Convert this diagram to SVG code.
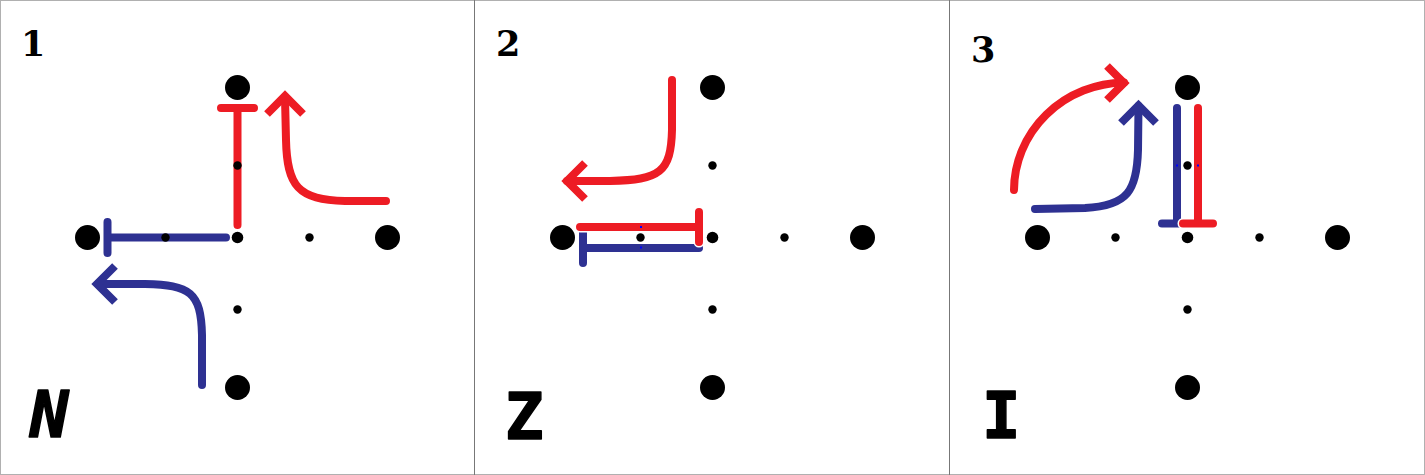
<svg xmlns="http://www.w3.org/2000/svg" width="1425" height="475" viewBox="0 0 1425 475">
<style>
.big{fill:#000}
.sm{fill:#000}
.r{stroke:#ED1C24}
.b{stroke:#2E3192}
.ln{fill:none;stroke-width:8;stroke-linecap:round;stroke-linejoin:round}
.hd{fill:none;stroke-width:8;stroke-linecap:butt;stroke-linejoin:miter}
.halo{fill:none;stroke:#fff;stroke-width:11;stroke-linecap:round}
.num{font-family:"DejaVu Serif","Liberation Serif",serif;font-weight:bold;font-size:35px;fill:#000}
.let{font-family:"DejaVu Sans Mono","Liberation Mono",monospace;font-weight:bold;font-size:64px;fill:#000;stroke:#000;stroke-width:1.5;stroke-linejoin:round}
.tiny{fill:#0000ff}
</style>
<rect x="0" y="0" width="1425" height="475" fill="#fff"/>
<g id="frame" fill="none">
<rect x="0.5" y="0.5" width="1424" height="474" stroke="#b0b0b0"/>
<line x1="474.5" y1="0" x2="474.5" y2="475" stroke="#777"/>
<line x1="949.5" y1="0" x2="949.5" y2="475" stroke="#777"/>
</g>

<g id="connectors">
<!-- Panel 1 -->
<g id="p1-red-bar">
<path class="ln r" d="M237.5,225 V108 M221,108 H254"/>
</g>
<g id="p1-red-arrow">
<path class="ln r" d="M386,201 L345,201 C298,200 287,186 286,140 L285,98"/>
<path class="hd r" d="M267,114 L285,96 L303,114"/>
</g>
<g id="p1-blue-bar">
<path class="ln b" d="M226,237.5 H107.5 M107.5,222 V253"/>
</g>
<g id="p1-blue-arrow">
<path class="ln b" d="M202,385 L202,335 C201,292 190,285 145,284 L98,284"/>
<path class="hd b" d="M115,266 L97,284 L115,302"/>
</g>

<!-- Panel 2 -->
<g id="p2-red-arrow">
<path class="ln r" d="M672,80 L672,130 C671,172 660,180 610,181 L567,181"/>
<path class="hd r" d="M585,163 L567,181 L585,199"/>
</g>
<g id="p2-blue-bar">
<path class="ln b" d="M699,248 H583 M583,233 V263"/>
</g>
<g id="p2-red-bar">
<path class="halo" d="M580,227 H699 M699,212 V242"/>
<path class="ln r" d="M580,227 H699 M699,212 V242"/>
</g>
<rect class="tiny" x="640" y="226" width="2" height="2"/>
<rect class="tiny" x="640" y="246.5" width="2" height="2"/>

<!-- Panel 3 -->
<g id="p3-red-arrow">
<path class="ln r" d="M1014,190 A112,108 0 0 1 1124,82.5"/>
<path class="hd r" d="M1107,66 L1124,83 L1107,100"/>
</g>
<g id="p3-blue-arrow">
<path class="ln b" d="M1035,209 L1085,208 C1128,206 1137,190 1138,150 L1138.5,106"/>
<path class="hd b" d="M1121,123 L1138.5,105.5 L1156,123"/>
</g>
<g id="p3-blue-bar">
<path class="ln b" d="M1177,108 V223.5 M1162,223.5 H1185"/>
</g>
<g id="p3-red-bar">
<path class="halo" d="M1198,108 V223.5 M1183,223.5 H1213"/>
<path class="ln r" d="M1198,108 V223.5 M1183,223.5 H1213"/>
</g>
<rect class="tiny" x="1176" y="164.5" width="2" height="2"/>
<rect class="tiny" x="1197" y="164.5" width="2" height="2"/>
</g>

<!-- Panel 1 -->
<g id="panel1">
<text class="num" x="21" y="56">1</text>
<text class="let" x="30" y="437" font-style="italic">N</text>
<g id="p1-dots">
<circle id="p1-n" class="big" cx="237.5" cy="87.5" r="12.5"/>
<circle id="p1-w" class="big" cx="87.5" cy="237.5" r="12.5"/>
<circle id="p1-e" class="big" cx="387.5" cy="237.5" r="12.5"/>
<circle id="p1-s" class="big" cx="237.5" cy="387.5" r="12.5"/>
<circle id="p1-c" class="sm" cx="237.5" cy="237.5" r="5.8"/>
<circle id="p1-nn" class="sm" cx="237.5" cy="165.5" r="4.2"/>
<circle id="p1-ww" class="sm" cx="165.5" cy="237.5" r="4.2"/>
<circle id="p1-ee" class="sm" cx="309.5" cy="237.5" r="4.2"/>
<circle id="p1-ss" class="sm" cx="237.5" cy="309.5" r="4.2"/>
</g>
</g>

<!-- Panel 2 -->
<g id="panel2">
<text class="num" x="496" y="56">2</text>
<text class="let" x="505" y="439">Z</text>
<g id="p2-dots">
<circle id="p2-n" class="big" cx="712.5" cy="87.5" r="12.5"/>
<circle id="p2-w" class="big" cx="562.5" cy="237.5" r="12.5"/>
<circle id="p2-e" class="big" cx="862.5" cy="237.5" r="12.5"/>
<circle id="p2-s" class="big" cx="712.5" cy="387.5" r="12.5"/>
<circle id="p2-c" class="sm" cx="712.5" cy="237.5" r="5.8"/>
<circle id="p2-nn" class="sm" cx="712.5" cy="165.5" r="4.2"/>
<circle id="p2-ww" class="sm" cx="640.5" cy="237.5" r="4.2"/>
<circle id="p2-ee" class="sm" cx="784.5" cy="237.5" r="4.2"/>
<circle id="p2-ss" class="sm" cx="712.5" cy="309.5" r="4.2"/>
</g>
</g>

<!-- Panel 3 -->
<g id="panel3">
<text class="num" x="971" y="62" font-size="40">3</text>
<text class="let" x="982" y="438">I</text>
<g id="p3-dots">
<circle id="p3-n" class="big" cx="1187.5" cy="87.5" r="12.5"/>
<circle id="p3-w" class="big" cx="1037.5" cy="237.5" r="12.5"/>
<circle id="p3-e" class="big" cx="1337.5" cy="237.5" r="12.5"/>
<circle id="p3-s" class="big" cx="1187.5" cy="387.5" r="12.5"/>
<circle id="p3-c" class="sm" cx="1187.5" cy="237.5" r="5.8"/>
<circle id="p3-nn" class="sm" cx="1187.5" cy="165.5" r="4.2"/>
<circle id="p3-ww" class="sm" cx="1115.5" cy="237.5" r="4.2"/>
<circle id="p3-ee" class="sm" cx="1259.5" cy="237.5" r="4.2"/>
<circle id="p3-ss" class="sm" cx="1187.5" cy="309.5" r="4.2"/>
</g>
</g>
</svg>
